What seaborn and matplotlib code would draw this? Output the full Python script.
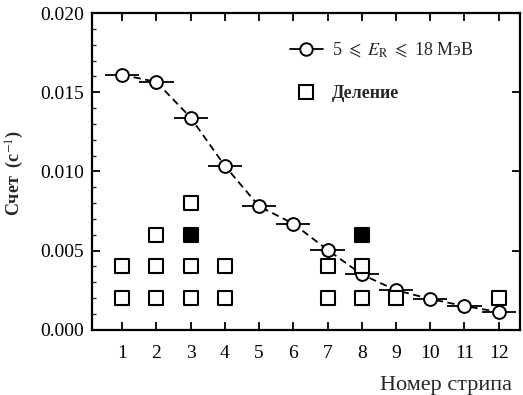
import matplotlib
matplotlib.use("Agg")
import matplotlib.pyplot as plt
import seaborn as sns
import pandas as pd
from matplotlib.ticker import MultipleLocator
from matplotlib.lines import Line2D

strips = [1, 2, 3, 4, 5, 6, 7, 8, 9, 10, 11, 12]
counts = [0.0161, 0.01565, 0.0134, 0.01035, 0.0078, 0.0067, 0.00505, 0.0035, 0.0025, 0.00195, 0.0015, 0.00113]
strip_err = [0.5] * 12

fis_x_open = [1, 1, 2, 2, 2, 3, 3, 3, 4, 4, 7, 7, 8, 8, 9, 12]
fis_y_open = [0.002, 0.004, 0.002, 0.004, 0.006, 0.002, 0.004, 0.008, 0.002, 0.004,
              0.002, 0.004, 0.002, 0.004, 0.002, 0.002]
fis_x_fill = [3, 8]
fis_y_fill = [0.006, 0.006]

xticks = list(range(1, 13))

sns.set_theme(style="ticks")
plt.rcParams['font.family'] = ['Liberation Serif', 'DejaVu Serif']
plt.rcParams['mathtext.fontset'] = 'stix'

fig = plt.figure(figsize=(5.23, 3.95), dpi=100)
ax = fig.add_axes([0.176, 0.165, 0.818, 0.802])

df = pd.DataFrame({"x": strips, "y": counts})
sns.lineplot(data=df, x="x", y="y", ax=ax, color="black", linestyle=(0, (4, 2.5)),
             linewidth=1.3, zorder=2)
ax.errorbar(strips, counts, xerr=strip_err, fmt="none", ecolor="black",
            elinewidth=1.3, capsize=0, zorder=3)
sns.scatterplot(x=strips, y=counts, ax=ax, marker="o", s=85, facecolor="white",
                edgecolor="black", linewidth=1.4, zorder=4)
sns.scatterplot(x=fis_x_open, y=fis_y_open, ax=ax, marker="s", s=110, facecolor="white",
                edgecolor="black", linewidth=1.5, zorder=5)
sns.scatterplot(x=fis_x_fill, y=fis_y_fill, ax=ax, marker="s", s=110, facecolor="black",
                edgecolor="black", linewidth=1.5, zorder=5)

ax.set_xlim(0.12, 12.62)
ax.set_ylim(0.0, 0.020)
ax.set_xticks(xticks)
ax.set_yticks([0.0, 0.005, 0.010, 0.015, 0.020])
ax.set_yticklabels(["0.000", "0.005", "0.010", "0.015", "0.020"])
ax.yaxis.set_minor_locator(MultipleLocator(0.001))
ax.tick_params(axis="both", which="major", direction="in", length=6, width=1.3,
               labelsize=14, top=True, right=True, pad=6, colors="black")
ax.tick_params(axis="x", which="major", pad=11)
ax.tick_params(axis="y", which="minor", direction="in", length=3, width=1.0, right=False)
for s in ax.spines.values():
    s.set_linewidth(1.6)
    s.set_color("black")

ax.set_xlabel("")
ax.set_ylabel("")
fig.text(0.029, 0.562, "Счет  (с$^{-1}$)", rotation=90, fontsize=13, fontweight="bold",
         ha="center", va="center")
fig.text(0.853, 0.024, "Номер стрипа", fontsize=16, ha="center", va="center")

handles = [
    Line2D([0], [0], color="black", marker="o", markerfacecolor="white", markersize=9,
           markeredgewidth=1.4, linewidth=1.3),
    Line2D([0], [0], color="none", marker="s", markerfacecolor="white", markeredgecolor="black",
           markersize=10, markeredgewidth=1.5),
]
labels = [r"5 $\leqslant$ $E_{\rm R}$ $\leqslant$ 18 МэВ", "Деление"]
leg = ax.legend(handles, labels, loc="upper left", bbox_to_anchor=(0.425, 0.965), frameon=False,
                fontsize=13, handlelength=1.8, labelspacing=1.45, handletextpad=0.5)
leg.get_texts()[1].set_fontweight("bold")

fig.savefig("out.png", dpi=100)
